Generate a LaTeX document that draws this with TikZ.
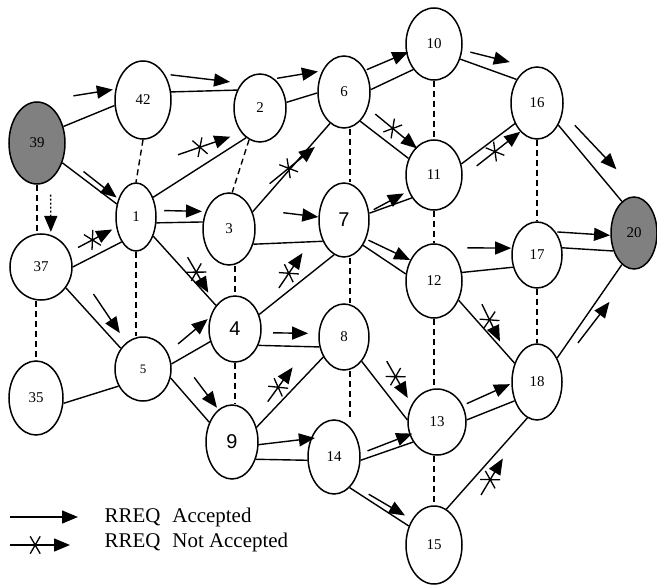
\documentclass[tikz,border=0pt]{standalone}
\usepackage{fontspec}
\setmainfont{Liberation Serif}
\newfontfamily\numsans{Liberation Sans}
\usetikzlibrary{positioning, arrows.meta, shapes.geometric, calc, decorations.markings}
\definecolor{moteGray}{RGB}{128,128,128}

% RREQ arrow beside a link: [style]{from}{to}{pos start}{offset start}{pos end}{offset end}
\newcommand{\rreq}[7][acc]{%
  \draw[#1] ($(#2)!#4!(#3)!#5bp!90:(#3)$) -- ($(#2)!#6!(#3)!#7bp!90:(#3)$);}

\begin{document}
\begin{tikzpicture}[x=1bp, y=-1bp, line width=1.4bp,
    mote/.style={draw, ellipse, inner sep=0pt, line width=1.5bp,
                 font=\fontsize{15}{15}\selectfont},
    sz/.style 2 args={minimum width=#1bp, minimum height=#2bp},
    big/.style={font=\numsans\fontsize{20}{20}\selectfont},
    link/.style={line width=1.4bp},
    nbr/.style={line width=1.4bp, dash pattern=on 6bp off 4bp},
    acc/.style={line width=1.4bp, -{Triangle[length=16bp, width=13bp]}},
    nacc/.style={acc, postaction={decorate},
      decoration={markings, mark=at position 0.42 with
        {\draw[-, line width=1.3bp] (60:10bp) -- (-120:10bp) (-60:10bp) -- (120:10bp);}}},
    accdot/.style={acc, dash pattern=on 2bp off 2bp},
    lgnd/.style={font=\fontsize{21}{21}\selectfont, inner sep=0pt, anchor=base west}]

  \fill[white] (0,0) rectangle (657,587);
  \useasboundingbox (0,0) rectangle (657,587);

  % motes
  \node[mote, sz={56}{82}, fill=moteGray] (n39) at (37,143) {39};
  \node[mote, sz={56}{78}] (n42) at (143,100) {42};
  \node[mote, sz={52}{68}] (n2)  at (260,108) {2};
  \node[mote, sz={52}{72}] (n6)  at (344,92)  {6};
  \node[mote, sz={56}{72}] (n10) at (434,44)  {10};
  \node[mote, sz={52}{72}] (n16) at (537,103) {16};
  \node[mote, sz={46}{72}, fill=moteGray] (n20) at (634,233) {20};
  \node[mote, sz={40}{68}] (n1)  at (136,217) {1};
  \node[mote, sz={52}{72}] (n3)  at (229,229) {3};
  \node[mote, sz={50}{74}, big] (n7) at (344,220) {7};
  \node[mote, sz={56}{70}] (n11) at (434,175) {11};
  \node[mote, sz={56}{74}] (n12) at (434,281) {12};
  \node[mote, sz={50}{66}] (n17) at (537,255) {17};
  \node[mote, sz={62}{66}] (n37) at (41,267)  {37};
  \node[mote, sz={52}{66}, big] (n4) at (235,329) {4};
  \node[mote, sz={56}{64}, font=\fontsize{13}{13}\selectfont] (n5) at (143,369) {5};
  \node[mote, sz={54}{74}] (n35) at (36,398)  {35};
  \node[mote, sz={52}{74}, big] (n9) at (232,442) {9};
  \node[mote, sz={50}{66}] (n8)  at (344,337) {8};
  \node[mote, sz={52}{74}] (n14) at (334,457) {14};
  \node[mote, sz={58}{66}] (n13) at (437,422) {13};
  \node[mote, sz={56}{78}] (n15) at (434,545) {15};
  \node[mote, sz={50}{76}] (n18) at (537,382) {18};

  % links
  \draw[link] (n39.32) -- (n42.191);
  \draw[link] (n39.-38) -- (n1.146);
  \draw[link] (n42.16) -- (n2.142);
  \draw[link] (n2.12) -- (n6.182);
  \draw[link] (n1.49) -- (n2.245);
  \draw[link] (n1.-16) -- (n3.165);
  \draw[link] (n1.-48) -- (n4.129);
  \draw[link] (n3.36) -- (n6.246);
  \draw[link] (n3.-32) -- (n7.225);
  \draw[link] (n37.0) -- (n1.240);
  \draw[link] (n37.-40) -- (n5.137);
  \draw[link] (n35.-11) -- (n5.215);
  \draw[link] (n5.10) -- (n4.207);
  \draw[link] (n5.-18) -- (n9.139);
  \draw[link] (n4.31) -- (n7.254);
  \draw[link] (n4.-35) -- (n8.202);
  \draw[link] (n9.31) -- (n8.224);
  \draw[link] (n9.-36) -- (n14.187);
  \draw[link] (n6.5) -- (n10.231);
  \draw[link] (n6.-61) -- (n11.147);
  \draw[link] (n7.15) -- (n11.226);
  \draw[link] (n7.-53) -- (n12.166);
  \draw[link] (n10.-30) -- (n16.131);
  \draw[link] (n11.22) -- (n16.223);
  \draw[link] (n16.-46) -- (n20.111);
  \draw[link] (n12.17) -- (n17.207);
  \draw[link] (n17.16) -- (n20.221);
  \draw[link] (n12.-38) -- (n18.140);
  \draw[link] (n8.-54) -- (n13.176);
  \draw[link] (n13.4) -- (n18.220);
  \draw[link] (n14.-7) -- (n13.220);
  \draw[link] (n14.-63) -- (n15.143);
  \draw[link] (n15.71) -- (n18.255);
  \draw[link] (n18.50) -- (n20.249);

  % neighbours in the same column
  \draw[nbr] (n39.south) -- (n39.south |- n37.north);
  \draw[nbr] (n35.north |- n37.south) -- (n35.north);
  \draw[nbr] (n42.south) -- (n1.north);
  \draw[nbr] (n1.south) -- (n1.south |- n5.north);
  \draw[nbr] (n2.251) -- (n3.85);
  \draw[nbr] (n4.north |- n3.south) -- (n4.north);
  \draw[nbr] (n4.south) -- (n4.south |- n9.north);
  \draw[nbr] ([xshift=6bp]n6.south) -- ([xshift=6bp]n7.north);
  \draw[nbr] ([xshift=6bp]n7.south) -- ([xshift=6bp]n8.north);
  \draw[nbr] ([xshift=6bp]n8.south) -- ([xshift=6bp]n8.south |- n14.north);
  \draw[nbr] (n10.south) -- (n11.north);
  \draw[nbr] (n11.south) -- (n12.north);
  \draw[nbr] (n12.south) -- (n12.south |- n13.north);
  \draw[nbr] (n15.north |- n13.south) -- (n15.north);
  \draw[nbr] (n16.south) -- (n17.north);
  \draw[nbr] (n17.south) -- (n18.north);

  % RREQ flooding
  \rreq{n39}{n42}{.45}{30}{.79}{21}
  \rreq{n39}{n1}{.44}{5}{.78}{4}
  \rreq[accdot]{n39}{n37}{.42}{12}{.72}{11}
  \rreq{n42}{n2}{.22}{27}{.73}{24}
  \rreq{n2}{n6}{.26}{26}{.745}{25}
  \rreq{n6}{n10}{.30}{9}{.74}{5}
  \rreq{n10}{n16}{.30}{11}{.63}{22}
  \rreq{n16}{n20}{.25}{17}{.62}{24}
  \rreq[nacc]{n1}{n2}{.44}{19}{.75}{-2}
  \rreq{n1}{n3}{.29}{10}{.69}{14}
  \rreq[nacc]{n1}{n4}{.43}{12}{.70}{4}
  \rreq[nacc]{n3}{n6}{.34}{-2}{.66}{-13}
  \rreq{n3}{n7}{.48}{12}{.78}{5}
  \rreq[nacc]{n37}{n1}{.39}{0}{.75}{0}
  \rreq{n37}{n5}{.39}{18}{.71}{9}
  \rreq{n5}{n4}{.42}{9}{.79}{20}
  \rreq{n5}{n9}{.39}{26}{.71}{17}
  \rreq[nacc]{n4}{n7}{.39}{-2}{.66}{6}
  \rreq{n4}{n8}{.35}{-1}{.67}{1}
  \rreq[nacc]{n9}{n8}{.35}{5}{.62}{13}
  \rreq{n9}{n14}{.25}{1}{.79}{16}
  \rreq[nacc]{n6}{n11}{.31}{5}{.75}{8}
  \rreq[nacc]{n11}{n16}{.32}{-17}{.76}{-14}
  \rreq{n7}{n11}{.31}{-4}{.65}{-3}
  \rreq{n7}{n12}{.29}{-3}{.71}{4}
  \rreq{n12}{n17}{.38}{24}{.78}{13}
  \rreq{n17}{n20}{.25}{18}{.76}{3}
  \rreq[nacc]{n12}{n18}{.35}{17}{.62}{3}
  \rreq[nacc]{n8}{n13}{.38}{11}{.70}{-2}
  \rreq{n13}{n18}{.32}{6}{.76}{8}
  \rreq{n14}{n13}{.31}{-5}{.75}{-3}
  \rreq{n14}{n15}{.38}{-5}{.69}{3}
  \rreq[nacc]{n15}{n18}{.35}{-13}{.57}{-12}
  \rreq{n18}{n20}{.31}{-13}{.60}{-17}

  % legend
  \coordinate (lgAccA) at (10,517);
  \coordinate (lgAccB) at (78,517);
  \coordinate (lgNotA) at (10,545);
  \coordinate (lgNotB) at (70,545);
  \draw[acc] (lgAccA) -- (lgAccB);
  \draw[nacc] (lgNotA) -- (lgNotB);
  \node[lgnd] (lgAcc) at (104,522) {RREQ\hspace{12bp}Accepted};
  \node[lgnd] (lgNot) at (104,547) {RREQ\hspace{12bp}Not Accepted};
\end{tikzpicture}
\end{document}
